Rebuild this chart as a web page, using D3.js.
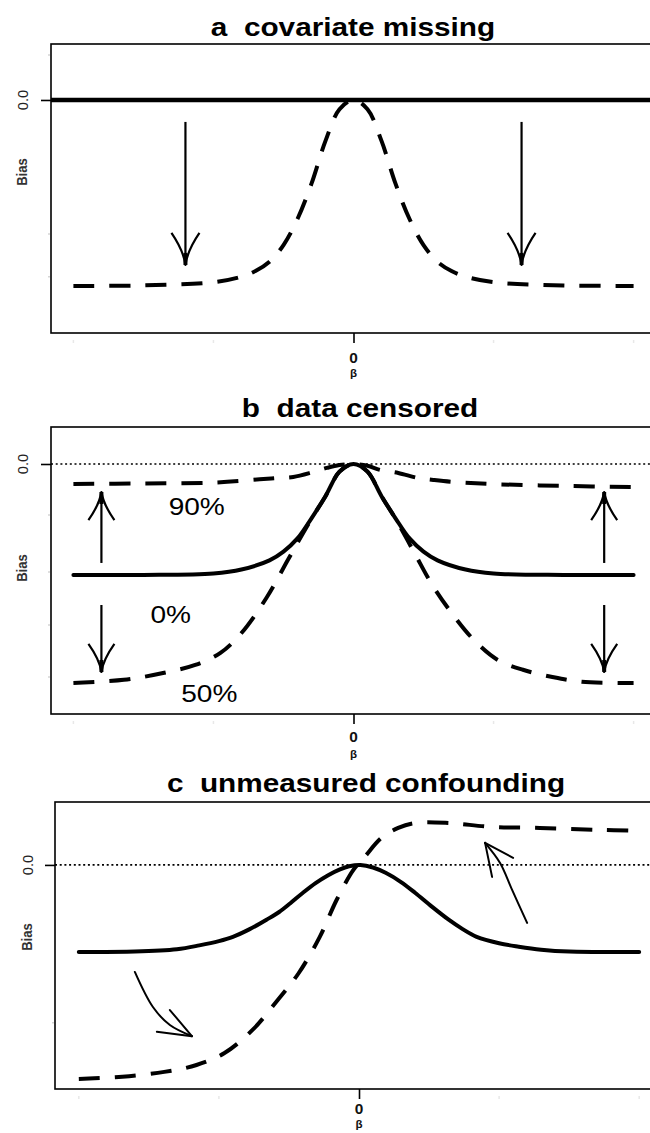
<!DOCTYPE html>
<html><head><meta charset="utf-8">
<script src="https://cdn.jsdelivr.net/npm/d3@7/dist/d3.min.js"></script>
<style>body{margin:0;background:#fff}svg{display:block}</style>
</head><body><svg id="chart" width="650" height="1133"></svg>
<script>
// ---------------- data ----------------
const titles = ["a  covariate missing", "b  data censored", "c  unmeasured confounding"];
const yTickLabel = "0.0";
const yAxisTitle = "Bias";
const xTickLabel = "0";
const xAxisTitle = "\u03b2";
const yTickZero = 0;

// panel a
const aZero = 0; // solid horizontal line at 0
const aDashX = [-2, -1.5, -1.0, -0.8, -0.7, -0.6, -0.5, -0.4, -0.3, -0.2, -0.1, 0, 0.1, 0.2, 0.3, 0.4, 0.5, 0.6, 0.7, 0.8, 1.0, 1.5, 2];
const aDashY = [-1, -0.997, -0.98, -0.95, -0.92, -0.87, -0.78, -0.64, -0.45, -0.22, -0.05, 0, -0.05, -0.22, -0.45, -0.64, -0.78, -0.87, -0.92, -0.95, -0.98, -0.997, -1];
const aArrowX = [-1.2, 1.2];
const aArrowFrom = -0.118, aArrowTo = -0.887;
const aFaintYTicks = [0.242, -0.72, -0.95];

// panel b
const bSolidX = [-2, -1.5, -1.0, -0.8, -0.6, -0.5, -0.4, -0.3, -0.2, -0.1, 0, 0.1, 0.2, 0.3, 0.4, 0.5, 0.6, 0.8, 1.0, 1.5, 2];
const bSolidY = [-0.507, -0.507, -0.5, -0.482, -0.44, -0.40, -0.34, -0.248, -0.147, -0.035, 0, -0.035, -0.147, -0.248, -0.34, -0.40, -0.44, -0.482, -0.5, -0.507, -0.507];
const b90X = [-2, -1.5, -1.0, -0.67, -0.55, -0.43, -0.29, -0.19, -0.1, 0, 0.1, 0.19, 0.32, 0.46, 0.57, 0.71, 1.0, 1.5, 2];
const b90Y = [-0.091, -0.089, -0.085, -0.07, -0.064, -0.059, -0.037, -0.018, -0.005, 0, -0.008, -0.027, -0.041, -0.064, -0.073, -0.082, -0.092, -0.1, -0.105];
const b50X = [-2, -1.64, -1.36, -1.13, -0.95, -0.8, -0.62, -0.47, -0.4, -0.3, -0.2, -0.1, 0, 0.1, 0.2, 0.3, 0.43, 0.56, 0.7, 0.86, 1.03, 1.21, 1.42, 1.63, 2];
const b50Y = [-1, -0.986, -0.955, -0.918, -0.863, -0.772, -0.61, -0.44, -0.36, -0.25, -0.147, -0.035, 0, -0.035, -0.147, -0.25, -0.40, -0.55, -0.68, -0.804, -0.895, -0.94, -0.973, -0.995, -1];
const bArrowX = [-1.8, 1.79];
const bUpFrom = -0.452, bUpTo = -0.128;
const bDownFrom = -0.644, bDownTo = -0.95;
const bLabels = ["90%", "0%", "50%"];
const bLabelX = [-1.32, -1.45, -1.23];
const bLabelY = [-0.233, -0.726, -1.087];
const bFaintYTicks = [-0.233, -0.493, -0.735, -0.973];

// panel c
const cSolidX = [-2, -1.6, -1.3, -1.14, -1.0, -0.9, -0.78, -0.66, -0.57, -0.49, -0.4, -0.31, -0.22, -0.14, -0.07, 0.01, 0.1, 0.19, 0.3, 0.4, 0.52, 0.64, 0.74, 0.84, 1.0, 1.14, 1.3, 1.5, 2];
const cSolidY = [-0.407, -0.405, -0.394, -0.376, -0.356, -0.336, -0.3, -0.256, -0.22, -0.179, -0.13, -0.085, -0.048, -0.022, -0.006, 0, -0.012, -0.037, -0.08, -0.13, -0.195, -0.256, -0.3, -0.336, -0.366, -0.382, -0.396, -0.405, -0.407];
const cDashX = [-2, -1.69, -1.39, -1.16, -0.96, -0.76, -0.58, -0.43, -0.28, -0.16, -0.04, 0.04, 0.16, 0.28, 0.4, 0.64, 0.94, 1.29, 1.71, 2.0];
const cDashY = [-1.0, -0.99, -0.967, -0.935, -0.879, -0.771, -0.631, -0.505, -0.336, -0.164, -0.023, 0.037, 0.126, 0.173, 0.196, 0.196, 0.178, 0.173, 0.164, 0.159];
const cArrowLeftX = [-1.6, -1.471, -1.35, -1.193];
const cArrowLeftY = [-0.5, -0.664, -0.748, -0.8];
const cArrowLeftArmsX = [-1.35, -1.443];
const cArrowLeftArmsY = [-0.678, -0.78];
const cArrowRightX = [1.2, 1.093, 1.007, 0.9];
const cArrowRightY = [-0.271, -0.117, 0.009, 0.103];
const cArrowRightArmsX = [0.95, 1.1];
const cArrowRightArmsY = [-0.056, 0.033];
const cFaintYTicks = [-0.738];

const xFaintTicks = [-2, -1, 1, 2];

// ---------------- drawing ----------------
const svg = d3.select("#chart");
svg.append("rect").attr("width", 650).attr("height", 1133).attr("fill", "#fff");

const FONT = "'Liberation Sans', Arial, Helvetica, sans-serif";
const STRETCH = 1.19;

function zip(xs, ys) { return xs.map((x, i) => [x, ys[i]]); }

function panel(cfg) {
  const g = svg.append("g");
  const x = d3.scaleLinear().domain(cfg.xDomain).range([cfg.left, cfg.right]);
  const y = d3.scaleLinear().domain(cfg.yDomain).range([cfg.bottom, cfg.top]);
  const clipId = "clip" + cfg.id;
  svg.append("clipPath").attr("id", clipId).append("rect")
    .attr("x", cfg.left).attr("y", cfg.top)
    .attr("width", cfg.right - cfg.left).attr("height", cfg.bottom - cfg.top);
  const plot = g.append("g").attr("clip-path", `url(#${clipId})`);

  // title
  g.append("text")
    .attr("transform", `translate(${cfg.titleX},${cfg.titleY}) scale(${STRETCH},1)`)
    .attr("text-anchor", "middle")
    .style("white-space", "pre")
    .attr("font-family", FONT).attr("font-weight", "bold").attr("font-size", 25)
    .attr("fill", "#000").text(cfg.title);

  // box
  g.append("rect").attr("x", cfg.left).attr("y", cfg.top)
    .attr("width", cfg.right - cfg.left).attr("height", cfg.bottom - cfg.top)
    .attr("fill", "none").attr("stroke", "#000").attr("stroke-width", 1.6);

  // x axis via d3 axis
  const xAxis = d3.axisBottom(x).tickValues([0]).tickSize(10).tickFormat(() => "");
  const xa = g.append("g").attr("transform", `translate(0,${cfg.bottom})`).call(xAxis);
  xa.select(".domain").remove();
  xa.selectAll("line").attr("stroke", "#000").attr("stroke-width", 1.6);
  // faint ticks
  g.append("g").selectAll("line").data(xFaintTicks).join("line")
    .attr("x1", d => x(d)).attr("x2", d => x(d))
    .attr("y1", cfg.bottom + 7).attr("y2", cfg.bottom + 10)
    .attr("stroke", "#e8e8e8").attr("stroke-width", 1.5);
  g.append("text").attr("transform", `translate(${x(0)},${cfg.bottom + cfg.zeroOff}) scale(1.1,1)`)
    .attr("text-anchor", "middle").attr("dominant-baseline", "central")
    .attr("font-family", FONT).attr("font-weight", "bold").attr("font-size", 14)
    .attr("fill", "#111").text(xTickLabel);
  g.append("text").attr("transform", `translate(${x(0)},${cfg.bottom + cfg.betaOff}) scale(1.1,1)`)
    .attr("text-anchor", "middle").attr("dominant-baseline", "central")
    .attr("font-family", FONT).attr("font-weight", "bold").attr("font-size", 10.5)
    .attr("fill", "#111").text(xAxisTitle);

  // y axis
  const yAxis = d3.axisLeft(y).tickValues([yTickZero]).tickSize(10).tickFormat(() => "");
  const ya = g.append("g").attr("transform", `translate(${cfg.left},0)`).call(yAxis);
  ya.select(".domain").remove();
  ya.selectAll("line").attr("stroke", "#000").attr("stroke-width", 1.6);
  g.append("g").selectAll("line").data(cfg.faintY).join("line")
    .attr("x1", cfg.left - 3).attr("x2", cfg.left - 1)
    .attr("y1", d => y(d)).attr("y2", d => y(d))
    .attr("stroke", "#d5d5d5").attr("stroke-width", 1.5);
  g.append("text").attr("transform", `translate(${cfg.labX},${y(yTickZero)}) rotate(-90) scale(1.05,1.1)`)
    .attr("text-anchor", "middle").attr("dominant-baseline", "central")
    .attr("font-family", FONT).attr("font-size", 14).attr("fill", "#222").text(yTickLabel);
  g.append("text").attr("transform", `translate(${cfg.labX},${cfg.biasY}) rotate(-90) scale(1.05,1.1)`)
    .attr("text-anchor", "middle").attr("dominant-baseline", "central")
    .attr("font-family", FONT).attr("font-weight", "bold").attr("font-size", 12.5)
    .attr("fill", "#333").text(yAxisTitle);

  return { g, plot, x, y };
}

function curve(p, pts, dashed) {
  const line = d3.line().x(d => p.x(d[0])).y(d => p.y(d[1])).curve(d3.curveCatmullRom.alpha(0.5));
  p.plot.append("path").attr("d", line(pts)).attr("fill", "none")
    .attr("stroke", "#000").attr("stroke-width", 4)
    .attr("stroke-linecap", dashed ? "butt" : "round")
    .attr("stroke-linejoin", "round")
    .attr("stroke-dasharray", dashed ? "21,15" : null);
}

function hline(p, v, dotted, width) {
  const [x0, x1] = p.x.range();
  p.plot.append("line").attr("x1", x0).attr("x2", x1)
    .attr("y1", p.y(v)).attr("y2", p.y(v))
    .attr("stroke", "#000").attr("stroke-width", width)
    .attr("stroke-dasharray", dotted ? "2,2.7" : null);
}

function vArrow(p, xv, from, to, armW, armH) {
  const X = p.x(xv), Y0 = p.y(from), Y1 = p.y(to);
  const dir = Y1 > Y0 ? -1 : 1; // arms go back toward the tail
  p.g.append("line").attr("x1", X).attr("x2", X).attr("y1", Y0).attr("y2", Y1)
    .attr("stroke", "#000").attr("stroke-width", 2.2);
  const arm = d3.path();
  arm.moveTo(X - armW, Y1 + dir * armH);
  arm.quadraticCurveTo(X - 2, Y1 + dir * armH * 0.45, X, Y1);
  arm.quadraticCurveTo(X + 2, Y1 + dir * armH * 0.45, X + armW, Y1 + dir * armH);
  p.g.append("path").attr("d", arm.toString()).attr("fill", "none")
    .attr("stroke", "#000").attr("stroke-width", 2.2).attr("stroke-linejoin", "round");
  p.g.append("line").attr("x1", X).attr("x2", X).attr("y1", Y1).attr("y2", Y1 + dir * 12)
    .attr("stroke", "#000").attr("stroke-width", 4);
}

function curvedArrow(p, xs, ys, axs, ays) {
  const pts = zip(xs, ys);
  const line = d3.line().x(d => p.x(d[0])).y(d => p.y(d[1])).curve(d3.curveCatmullRom);
  p.g.append("path").attr("d", line(pts)).attr("fill", "none")
    .attr("stroke", "#000").attr("stroke-width", 2).attr("stroke-linecap", "round");
  const tip = pts[pts.length - 1];
  axs.forEach((ax, i) => {
    p.g.append("line").attr("x1", p.x(tip[0])).attr("y1", p.y(tip[1]))
      .attr("x2", p.x(ax)).attr("y2", p.y(ays[i]))
      .attr("stroke", "#000").attr("stroke-width", 2).attr("stroke-linecap", "round");
  });
}

// ---- panel a ----
const pa = panel({ id: "a", title: titles[0], titleX: 353, titleY: 36,
  left: 51, right: 656, top: 44, bottom: 333,
  xDomain: [-2.16, 2.16], yDomain: [-1.253, 0.301],
  labX: 22, biasY: 172, faintY: aFaintYTicks, zeroOff: 25, betaOff: 40 });
hline(pa, aZero, false, 4.5);
curve(pa, zip(aDashX, aDashY), true);
aArrowX.forEach(xv => vArrow(pa, xv, aArrowFrom, aArrowTo, 14, 32));

// ---- panel b ----
const pb = panel({ id: "b", title: titles[1], titleX: 360, titleY: 417,
  left: 51, right: 656, top: 427, bottom: 714,
  xDomain: [-2.16, 2.16], yDomain: [-1.142, 0.169],
  labX: 22, biasY: 568, faintY: bFaintYTicks, zeroOff: 23, betaOff: 40 });
hline(pb, 0, true, 1.6);
curve(pb, zip(b90X, b90Y), true);
curve(pb, zip(b50X, b50Y), true);
curve(pb, zip(bSolidX, bSolidY), false);
bArrowX.forEach(xv => {
  vArrow(pb, xv, bUpFrom, bUpTo, 13, 28);
  vArrow(pb, xv, bDownFrom, bDownTo, 13, 28);
});
bLabels.forEach((t, i) => {
  pb.g.append("text")
    .attr("transform", `translate(${pb.x(bLabelX[i])},${pb.y(bLabelY[i])}) scale(1.17,1)`)
    .attr("font-family", FONT).attr("font-size", 24).attr("fill", "#000").text(t);
});

// ---- panel c ----
const pc = panel({ id: "c", title: titles[2], titleX: 366, titleY: 792,
  left: 55, right: 663, top: 802, bottom: 1089,
  xDomain: [-2.17, 2.17], yDomain: [-1.047, 0.294],
  labX: 27, biasY: 937, faintY: cFaintYTicks, zeroOff: 20, betaOff: 35 });
hline(pc, 0, true, 1.6);
curve(pc, zip(cDashX, cDashY), true);
curve(pc, zip(cSolidX, cSolidY), false);
curvedArrow(pc, cArrowLeftX, cArrowLeftY, cArrowLeftArmsX, cArrowLeftArmsY);
curvedArrow(pc, cArrowRightX, cArrowRightY, cArrowRightArmsX, cArrowRightArmsY);
</script>
</body></html>
